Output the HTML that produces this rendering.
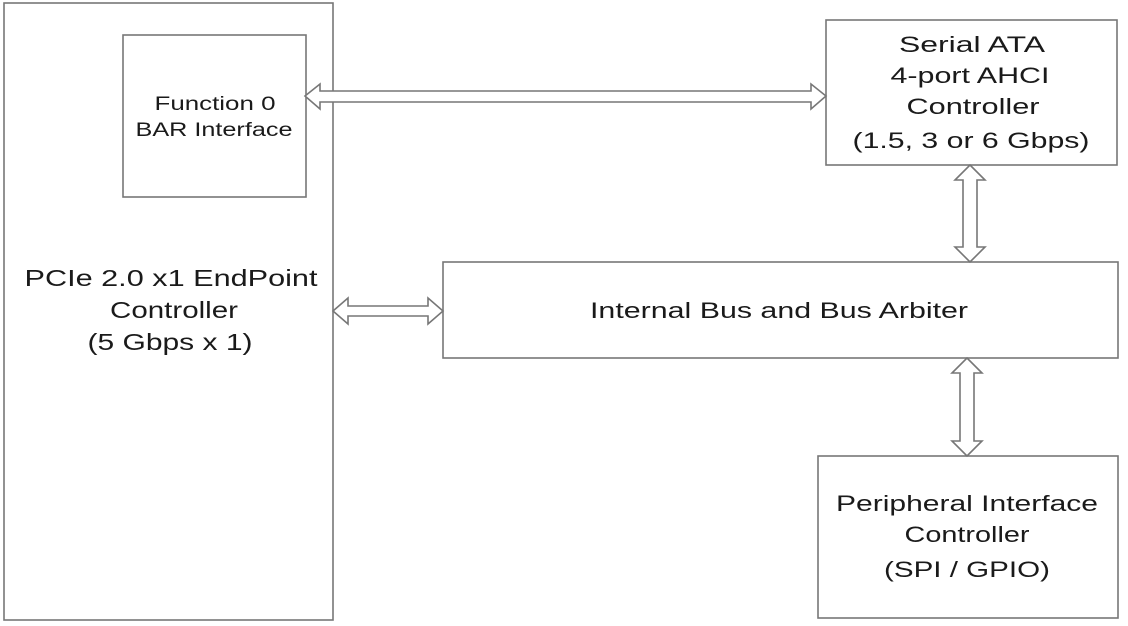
<!DOCTYPE html>
<html><head><meta charset="utf-8"><style>
body{margin:0;background:#fff;}
svg{display:block;}
text{font-family:"Liberation Sans",sans-serif;fill:#1a1a1a;text-anchor:middle;}
</style></head><body>
<svg width="1128" height="626" viewBox="0 0 1128 626" xmlns="http://www.w3.org/2000/svg">
<g fill="#fff" stroke="#777" stroke-width="1.6">
<rect x="4" y="3" width="329" height="617"/>
<rect x="123" y="35" width="183" height="162"/>
<rect x="826" y="20" width="291" height="145"/>
<rect x="443" y="262" width="675" height="96"/>
<rect x="818" y="456" width="300" height="162"/>
<polygon points="305,96 320,84 320,91 811,91 811,84 826,96 811,109 811,102 320,102 320,109"/>
<polygon points="333,311 348,298 348,306 428,306 428,298 443,311 428,324 428,316 348,316 348,324"/>
<polygon points="970,165 985,180 977,180 977,247 985,247 970,262 955,247 963,247 963,180 955,180"/>
<polygon points="967,358 982,373 974,373 974,441 982,441 967,456 952,441 960,441 960,373 952,373"/>
</g>
<text x="215" y="110" font-size="19" textLength="121" lengthAdjust="spacingAndGlyphs">Function 0</text>
<text x="214" y="136" font-size="19" textLength="157" lengthAdjust="spacingAndGlyphs">BAR Interface</text>
<text x="171" y="286" font-size="23" textLength="293" lengthAdjust="spacingAndGlyphs">PCIe 2.0 x1 EndPoint</text>
<text x="174" y="318" font-size="23" textLength="128" lengthAdjust="spacingAndGlyphs">Controller</text>
<text x="170" y="350" font-size="23" textLength="165" lengthAdjust="spacingAndGlyphs">(5 Gbps x 1)</text>
<text x="972" y="52" font-size="22" textLength="146" lengthAdjust="spacingAndGlyphs">Serial ATA</text>
<text x="970" y="83" font-size="22" textLength="159" lengthAdjust="spacingAndGlyphs">4-port AHCI</text>
<text x="973" y="114" font-size="22" textLength="133" lengthAdjust="spacingAndGlyphs">Controller</text>
<text x="971" y="148" font-size="22" textLength="237" lengthAdjust="spacingAndGlyphs">(1.5, 3 or 6 Gbps)</text>
<text x="779" y="318" font-size="22" textLength="378" lengthAdjust="spacingAndGlyphs">Internal Bus and Bus Arbiter</text>
<text x="967" y="511" font-size="22" textLength="262" lengthAdjust="spacingAndGlyphs">Peripheral Interface</text>
<text x="967" y="542" font-size="22" textLength="125" lengthAdjust="spacingAndGlyphs">Controller</text>
<text x="967" y="577" font-size="22" textLength="166" lengthAdjust="spacingAndGlyphs">(SPI / GPIO)</text>
</svg>
</body></html>
